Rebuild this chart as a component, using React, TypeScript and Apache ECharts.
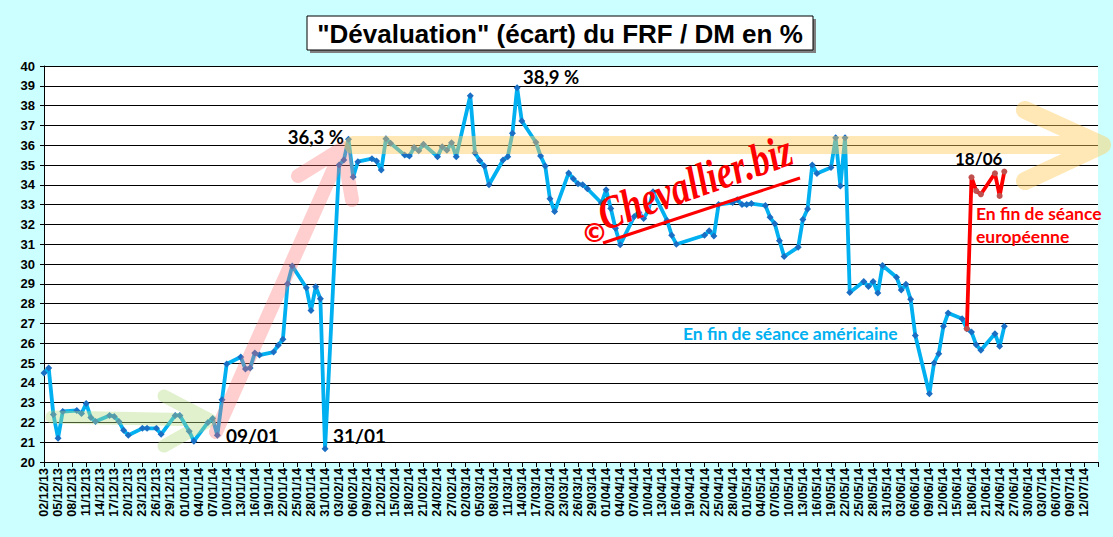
import React, { useEffect, useRef } from "react";
import * as echarts from "echarts";

// ---- categories: every calendar day from 02/12/13 to 15/07/14 ----
const AXIS_START = { y: 2013, m: 11, d: 2 };
const AXIS_DAYS = 226;
const pad = (n: number) => (n < 10 ? "0" + n : "" + n);
const categories: string[] = [];
for (let i = 0; i < AXIS_DAYS; i++) {
  const dt = new Date(Date.UTC(AXIS_START.y, AXIS_START.m, AXIS_START.d + i));
  categories.push(pad(dt.getUTCDate()) + "/" + pad(dt.getUTCMonth() + 1) + "/" + pad(dt.getUTCFullYear() % 100));
}
const LAST_LABEL_INDEX = 222; // 12/07/14

// ---- series: close of the American session ----
const usDates = [
  "02/12/13", "03/12/13", "04/12/13", "05/12/13", "06/12/13",
  "09/12/13", "10/12/13", "11/12/13", "12/12/13", "13/12/13",
  "16/12/13", "17/12/13", "18/12/13", "19/12/13", "20/12/13",
  "23/12/13", "24/12/13", "26/12/13", "27/12/13",
  "30/12/13", "31/12/13", "02/01/14", "03/01/14",
  "06/01/14", "07/01/14", "08/01/14", "09/01/14", "10/01/14",
  "13/01/14", "14/01/14", "15/01/14", "16/01/14", "17/01/14",
  "20/01/14", "21/01/14", "22/01/14", "23/01/14", "24/01/14",
  "27/01/14", "28/01/14", "29/01/14", "30/01/14", "31/01/14",
  "03/02/14", "04/02/14", "05/02/14", "06/02/14", "07/02/14",
  "10/02/14", "11/02/14", "12/02/14", "13/02/14", "14/02/14",
  "17/02/14", "18/02/14", "19/02/14", "20/02/14", "21/02/14",
  "24/02/14", "25/02/14", "26/02/14", "27/02/14", "28/02/14",
  "03/03/14", "04/03/14", "05/03/14", "06/03/14", "07/03/14",
  "10/03/14", "11/03/14", "12/03/14", "13/03/14", "14/03/14",
  "17/03/14", "18/03/14", "19/03/14", "20/03/14", "21/03/14",
  "24/03/14", "25/03/14", "26/03/14", "27/03/14", "28/03/14",
  "31/03/14", "01/04/14", "02/04/14", "03/04/14", "04/04/14",
  "07/04/14", "08/04/14", "09/04/14", "10/04/14", "11/04/14",
  "14/04/14", "15/04/14", "16/04/14",
  "22/04/14", "23/04/14", "24/04/14", "25/04/14",
  "28/04/14", "29/04/14", "30/04/14", "01/05/14", "02/05/14",
  "05/05/14", "06/05/14", "07/05/14", "08/05/14", "09/05/14",
  "12/05/14", "13/05/14", "14/05/14", "15/05/14", "16/05/14",
  "19/05/14", "20/05/14", "21/05/14", "22/05/14", "23/05/14",
  "26/05/14", "27/05/14", "28/05/14", "29/05/14", "30/05/14",
  "02/06/14", "03/06/14", "04/06/14", "05/06/14", "06/06/14",
  "09/06/14", "10/06/14", "11/06/14", "12/06/14", "13/06/14",
  "16/06/14", "17/06/14", "18/06/14", "19/06/14", "20/06/14",
  "23/06/14", "24/06/14", "25/06/14",
];
const usValues = [
  24.5, 24.75, 22.4, 21.2, 22.55,
  22.6, 22.45, 22.95, 22.25, 22.05,
  22.35, 22.3, 22.05, 21.6, 21.35,
  21.7, 21.7, 21.7, 21.4,
  22.35, 22.35, 21.55, 21.05,
  22.0, 22.2, 21.35, 23.15, 24.95,
  25.3, 24.7, 24.75, 25.5, 25.4,
  25.55, 25.9, 26.2, 29.0, 29.9,
  28.8, 27.65, 28.85, 28.25, 20.67,
  35.0, 35.25, 36.3, 34.4, 35.17,
  35.32, 35.2, 34.75, 36.33, 36.1,
  35.5, 35.45, 35.88, 35.72, 36.05,
  35.42, 35.92, 35.75, 36.12, 35.42,
  38.5, 35.6, 35.23, 34.95, 34.0,
  35.25, 35.42, 36.6, 38.9, 37.22,
  36.15, 35.46, 34.95, 33.3, 32.65,
  34.6, 34.3, 34.05, 34.0, 33.8,
  33.08, 33.75, 32.8, 31.8, 30.97,
  32.4, 32.6, 32.3, 32.7, 33.65,
  32.2, 31.45, 31.0,
  31.45, 31.68, 31.42, 33.0,
  33.1, 33.25, 33.0, 33.0, 33.05,
  32.95, 32.36, 32.03, 31.18, 30.38,
  30.85, 32.25, 32.78, 35.0, 34.57,
  34.87, 36.37, 33.94, 36.37, 28.56,
  29.11, 28.86, 29.11, 28.53, 29.92,
  29.33, 28.69, 28.98, 28.22, 26.39,
  23.45, 25.0, 25.47, 26.85, 27.52,
  27.23, 26.73, 26.56, 25.92, 25.64,
  26.48, 25.84, 26.85,
];

// ---- series: close of the European session ----
const euDates = ["17/06/14", "18/06/14", "19/06/14", "20/06/14", "23/06/14", "24/06/14", "25/06/14"];
const euValues = [26.73, 34.38, 33.69, 33.52, 34.58, 33.44, 34.67];

const yTicks = { min: 20, max: 40, step: 1 };

const TITLE = "\"Dévaluation\" (écart) du FRF / DM en %";

const annoFont = "Lato, 'Open Sans', sans-serif";

function buildOption(): any {
  const us = usDates.map((d, i) => [d, usValues[i]]);
  const eu = euDates.map((d, i) => [d, euValues[i]]);
  const arrowStyle = (stroke: string, w: number) => ({
    stroke,
    lineWidth: w,
    fill: null,
    lineCap: "round",
    lineJoin: "round",
  });
  const txt = (text: string, x: number, y: number, size: number, color: string, align = "left") => ({
    type: "text",
    z: 120,
    x,
    y,
    style: {
      text,
      fill: color,
      font: `bold ${size}px ${annoFont}`,
      textAlign: align,
      textVerticalAlign: "middle",
    },
  });
  return {
    animation: false,
    backgroundColor: "#CCFFFF",
    grid: {
      left: 44,
      right: 15,
      top: 66,
      bottom: 75,
      show: true,
      backgroundColor: "#FFFFFF",
      borderWidth: 0,
    },
    xAxis: {
      type: "category",
      data: categories,
      boundaryGap: false,
      axisLine: { show: true, lineStyle: { color: "#000", width: 1 } },
      axisTick: {
        show: true,
        length: 5,
        lineStyle: { color: "#000" },
        interval: (idx: number) => idx % 3 === 0,
      },
      axisLabel: {
        show: true,
        rotate: 90,
        margin: 6,
        interval: (idx: number) => idx % 3 === 0 && idx <= LAST_LABEL_INDEX,
        color: "#000",
        fontFamily: "'Liberation Sans', Arial, sans-serif",
        fontWeight: "bold",
        fontSize: 12.5,
      },
      splitLine: { show: false },
    },
    yAxis: {
      type: "value",
      min: yTicks.min,
      max: yTicks.max,
      interval: yTicks.step,
      axisLine: { show: true, lineStyle: { color: "#000", width: 1 } },
      axisTick: { show: true, length: 4, lineStyle: { color: "#000" } },
      axisLabel: {
        margin: 9,
        color: "#000",
        fontFamily: "'Liberation Sans', Arial, sans-serif",
        fontWeight: "bold",
        fontSize: 13,
      },
      splitLine: { show: true, lineStyle: { color: "#000", width: 1 } },
    },
    series: [
      {
        name: "US",
        type: "line",
        data: us,
        symbol: "diamond",
        symbolSize: 7,
        showSymbol: true,
        showAllSymbol: true,
        lineStyle: { color: "#00B0F0", width: 3.8 },
        itemStyle: { color: "#1A6FC4" },
        z: 3,
      },
      {
        name: "EU",
        type: "line",
        data: eu,
        symbol: "circle",
        symbolSize: 6,
        showSymbol: true,
        showAllSymbol: true,
        lineStyle: { color: "#FF0000", width: 3.8 },
        itemStyle: { color: "#C0504D" },
        z: 4,
      },
    ],
    graphic: {
      elements: [
        // title box with shadow
        { type: "rect", z: 100, shape: { x: 310, y: 19, width: 506, height: 34 }, style: { fill: "#7F7F7F" } },
        { type: "rect", z: 101, shape: { x: 307, y: 16, width: 506, height: 34 }, style: { fill: "#FFFFFF", stroke: "#000", lineWidth: 1 } },
        {
          type: "text",
          z: 102,
          x: 560,
          y: 34,
          style: {
            text: TITLE,
            fill: "#000",
            font: "bold 26px 'Liberation Sans', Arial, sans-serif",
            textAlign: "center",
            textVerticalAlign: "middle",
          },
        },
        // green arrow
        {
          type: "polyline",
          z: 110,
          shape: { points: [[52, 417], [210, 420], [164, 396], [210, 420], [164, 446]] },
          style: arrowStyle("rgba(180,220,130,0.40)", 13),
        },
        // pink arrow
        {
          type: "polyline",
          z: 110,
          shape: { points: [[216, 432], [343, 148], [298, 176], [343, 148], [352, 200]] },
          style: arrowStyle("rgba(255,110,110,0.34)", 14),
        },
        // yellow arrow
        {
          type: "polyline",
          z: 110,
          shape: { points: [[353, 145], [1102, 145], [1025, 110], [1102, 145], [1025, 181]] },
          style: arrowStyle("rgba(255,205,90,0.45)", 18),
        },
        // watermark
        {
          type: "text",
          z: 115,
          x: 581,
          y: 232,
          style: { text: "©", fill: "#FF0000", font: "bold 27px 'DejaVu Sans', sans-serif", textAlign: "left", textVerticalAlign: "middle" },
        },
        {
          type: "text",
          z: 115,
          x: 607,
          y: 238,
          rotation: 0.34,
          scaleY: 1.3,
          style: {
            text: "Chevallier.biz",
            fill: "#FF0000",
            font: "italic bold 36px 'Liberation Serif', serif",
            textAlign: "left",
            textVerticalAlign: "bottom",
          },
        },
        {
          type: "line",
          z: 115,
          shape: { x1: 603, y1: 243, x2: 800, y2: 178 },
          style: { stroke: "#FF0000", lineWidth: 3 },
        },
        // annotations
        txt("36,3 %", 344, 137, 18.5, "#000", "right"),
        txt("38,9 %", 523, 77, 18.5, "#000"),
        txt("09/01", 226, 435, 19, "#000"),
        txt("31/01", 333, 435, 19, "#000"),
        txt("18/06", 955, 158, 17, "#000"),
        txt("En fin de séance américaine", 683, 333, 17.5, "#00B0F0"),
        txt("En fin de séance", 976, 213, 17.5, "#FF0000"),
        txt("européenne", 976, 236, 17.5, "#FF0000"),
      ],
    },
  };
}

export default function App() {
  const ref = useRef<HTMLDivElement>(null);
  useEffect(() => {
    if (!ref.current) return;
    const chart = echarts.init(ref.current, undefined, { renderer: "svg", width: 1113, height: 537 });
    chart.setOption(buildOption());
    return () => chart.dispose();
  }, []);
  return (
    <div
      ref={ref}
      style={{ position: "absolute", left: 0, top: 0, width: 1113, height: 537, background: "#CCFFFF" }}
    />
  );
}
